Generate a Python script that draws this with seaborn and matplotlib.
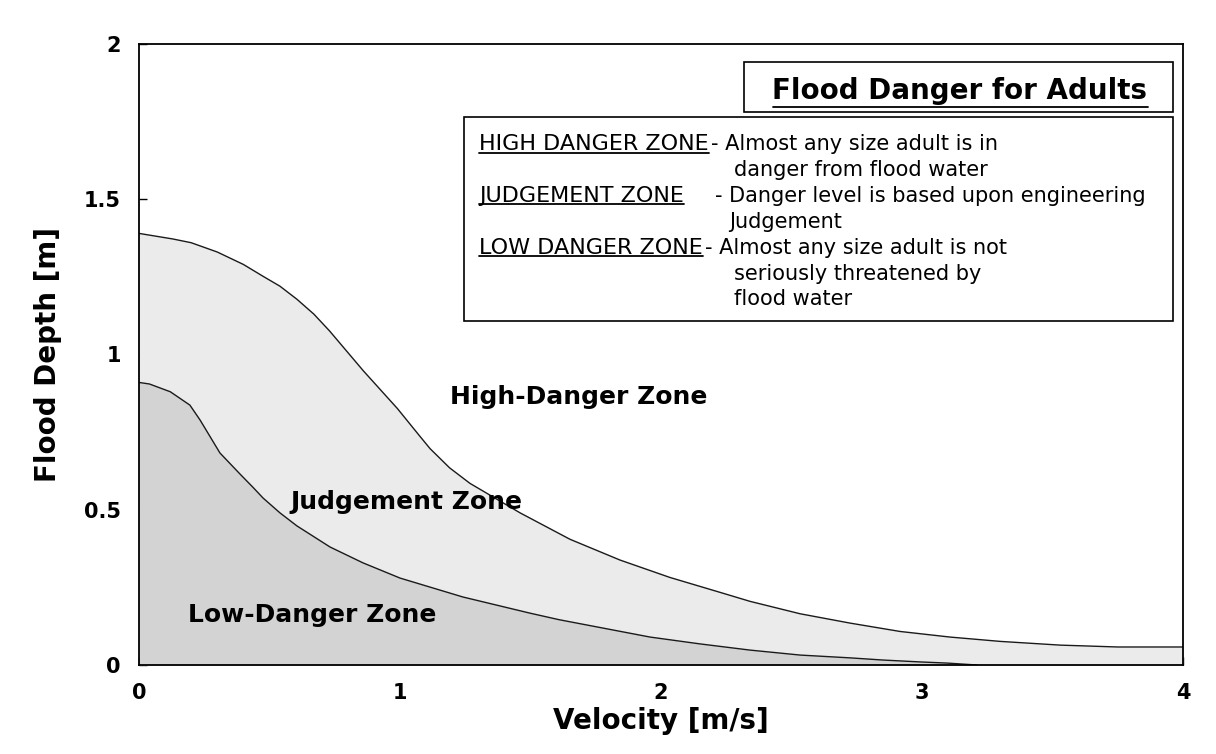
import numpy as np
import pandas as pd
import matplotlib
matplotlib.use("Agg")
import matplotlib.pyplot as plt
import seaborn as sns
from matplotlib.patches import Rectangle
from matplotlib.lines import Line2D

# ---------------- data ----------------
v_high = [0.0, 0.13, 0.2, 0.3, 0.4, 0.475, 0.54, 0.605, 0.67, 0.73, 0.86, 0.99, 1.073, 1.115, 1.19, 1.268,
          1.46, 1.651, 1.843, 2.034, 2.226, 2.341, 2.533, 2.724, 2.916, 3.107, 3.3, 3.53, 3.75, 4.0]
d_high = [1.39, 1.372, 1.36, 1.33, 1.29, 1.252, 1.22, 1.178, 1.13, 1.076, 0.947, 0.826, 0.74, 0.697, 0.635, 0.585,
          0.490, 0.405, 0.338, 0.282, 0.234, 0.205, 0.165, 0.135, 0.108, 0.090, 0.076, 0.064, 0.058, 0.058]

v_low = [0.0, 0.04, 0.12, 0.195, 0.234, 0.31, 0.387, 0.437, 0.475, 0.54, 0.605, 0.732, 0.858, 1.0,
         1.241, 1.498, 1.609, 1.958, 2.149, 2.341, 2.533, 2.724, 2.85, 2.99, 3.1, 3.21]
d_low = [0.91, 0.905, 0.88, 0.837, 0.789, 0.683, 0.615, 0.572, 0.538, 0.49, 0.448, 0.380, 0.329, 0.280,
         0.219, 0.167, 0.146, 0.090, 0.068, 0.048, 0.032, 0.023, 0.016, 0.010, 0.006, 0.0]

x_ticks = [0, 1, 2, 3, 4]
x_tick_labels = ["0", "1", "2", "3", "4"]
y_ticks = [0, 0.5, 1, 1.5, 2]
y_tick_labels = ["0", "0.5", "1", "1.5", "2"]

zone_labels = ["High-Danger Zone", "Judgement Zone", "Low-Danger Zone"]
zone_label_pos = [(1.686, 0.863), (1.023, 0.525), (0.663, 0.161)]

title_text = "Flood Danger for Adults"
legend_lines = [
    ("HIGH DANGER ZONE", "- Almost any size adult is in", None),
    (None, "danger from flood water", 734),
    ("JUDGEMENT ZONE", "- Danger level is based upon engineering", 715),
    (None, "Judgement", 729),
    ("LOW DANGER ZONE", "- Almost any size adult is not", None),
    (None, "seriously threatened by", 734),
    (None, "flood water", 734),
]

# ---------------- figure ----------------
sns.set_theme(style="white")
plt.rcParams["font.family"] = ["DejaVu Sans"]
plt.rcParams["text.color"] = "black"
plt.rcParams["axes.labelcolor"] = "black"
plt.rcParams["xtick.color"] = "black"
plt.rcParams["ytick.color"] = "black"

W, H = 1216, 754
fig = plt.figure(figsize=(W / 100, H / 100), dpi=100)
ax = fig.add_axes([139 / W, 1 - 665 / H, (1183 - 139) / W, (665 - 44) / H])

def fx(px):
    return px / W

def fy(py):
    return 1 - py / H

ax.fill_between(v_high, 0, d_high, color="#ebebeb", lw=0, zorder=1)
ax.fill_between(v_low, 0, d_low, color="#d3d3d3", lw=0, zorder=2)
df_high = pd.DataFrame({"v": v_high, "d": d_high})
df_low = pd.DataFrame({"v": v_low, "d": d_low})
sns.lineplot(data=df_high, x="v", y="d", ax=ax, color="#1a1a1a", lw=1.0,
             errorbar=None, sort=False, zorder=3)
sns.lineplot(data=df_low, x="v", y="d", ax=ax, color="#1a1a1a", lw=1.0,
             errorbar=None, sort=False, zorder=3)

ax.set_xlim(0, 4)
ax.set_ylim(0, 2)
ax.set_xticks(x_ticks)
ax.set_xticklabels(x_tick_labels, fontweight="bold", fontsize=15, color="black")
ax.set_yticks(y_ticks)
ax.set_yticklabels(y_tick_labels, fontweight="bold", fontsize=15, color="black")
ax.tick_params(direction="in", length=6, width=1, color="black", pad=13,
               bottom=True, left=True)
for s in ax.spines.values():
    s.set_color("black")
    s.set_linewidth(1.3)
    s.set_zorder(5)

ax.set_xlabel("Velocity [m/s]", fontsize=20, fontweight="bold", color="black")
ax.set_ylabel("Flood Depth [m]", fontsize=20, fontweight="bold", color="black")
ax.xaxis.set_label_coords(0.5, -0.068)
ax.yaxis.set_label_coords(-0.074, 0.5)

for lab, (x, y) in zip(zone_labels, zone_label_pos):
    ax.text(x, y, lab, ha="center", va="center", fontsize=18, fontweight="bold",
            color="black", zorder=4)

# title box
fig.add_artist(Rectangle((fx(744), fy(112)), fx(1173) - fx(744), fy(62) - fy(112),
                         transform=fig.transFigure, fill=True, facecolor="white",
                         edgecolor="black", lw=1.2, zorder=6))
t_title = fig.text(fx(960), fy(99), title_text, ha="center", va="baseline",
                   fontsize=20, fontweight="bold", color="black", zorder=7)

# legend box
fig.add_artist(Rectangle((fx(464), fy(321)), fx(1173) - fx(464), fy(117) - fy(321),
                         transform=fig.transFigure, fill=True, facecolor="white",
                         edgecolor="black", lw=1.2, zorder=6))
r = fig.canvas.get_renderer()
underlines = []
base0, step = 150, 25.9
for i, (lab, desc, dx) in enumerate(legend_lines):
    by = base0 + i * step
    if lab is not None:
        t = fig.text(fx(479), fy(by), lab, ha="left", va="baseline", fontsize=16,
                     color="black", zorder=7)
        underlines.append((t, by + 2.5))
        if dx is None:
            bb = t.get_window_extent(renderer=r)
            dx = bb.x1 + 2
    fig.text(fx(dx), fy(by), desc, ha="left", va="baseline", fontsize=15,
             color="black", zorder=7)
underlines.append((t_title, 107))

fig.canvas.draw()
r = fig.canvas.get_renderer()
for t, uy in underlines:
    bb = t.get_window_extent(renderer=r)
    fig.add_artist(Line2D([bb.x0 / W, bb.x1 / W], [fy(uy), fy(uy)],
                          transform=fig.transFigure, color="black", lw=1.3, zorder=8))

fig.savefig("out.png", dpi=100)
